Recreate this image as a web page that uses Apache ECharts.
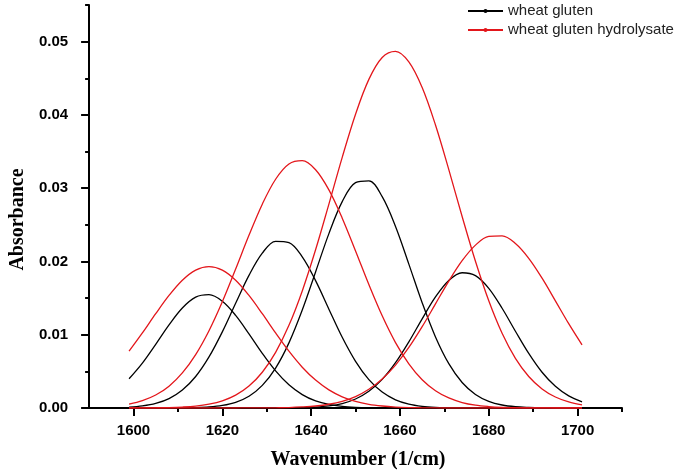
<!DOCTYPE html>
<html>
<head>
<meta charset="utf-8">
<script src="https://cdn.jsdelivr.net/npm/echarts@6/dist/echarts.min.js"></script>
<style>
html,body{margin:0;padding:0;background:#fff;}
#chart{width:676px;height:475px;}
</style>
</head>
<body>
<div id="chart"></div>
<script>
// Wavenumber sample positions (1/cm)
var wavenumbers = [1599,1602,1605,1608,1611,1614,1617,1620,1623,1626,1629,1632,1635,1638,1641,1644,1647,1650,1653,1656,1659,1662,1665,1668,1671,1674,1677,1680,1683,1686,1689,1692,1695,1698,1701];

// wheat gluten (black) fitted bands
var glutenBand1 = [0.00399,0.00613,0.00869,0.01134,0.01365,0.01513,0.01547,0.01457,0.01264,0.01012,0.00746,0.00507,0.00317,0.00183,0.00097,0.00048,0.00022,0.00009,0.00003,0.00001,0,0,0,0,0,0,0,0,0,0,0,0,0,0,0];
var glutenBand2 = [0.00011,0.00028,0.00062,0.00128,0.00245,0.0043,0.00697,0.01039,0.01429,0.0181,0.02114,0.02275,0.02257,0.02063,0.01738,0.01349,0.00965,0.00637,0.00387,0.00217,0.00112,0.00053,0.00023,0.00009,0.00004,0.00001,0,0,0,0,0,0,0,0,0];
var glutenBand3 = [0,0,0,0.00001,0.00002,0.00005,0.00014,0.00035,0.00078,0.00161,0.00309,0.00545,0.00889,0.01337,0.01857,0.0238,0.02816,0.03075,0.031,0.02884,0.02477,0.01964,0.01437,0.0097,0.00605,0.00348,0.00185,0.00091,0.00041,0.00017,0.00007,0.00002,0.00001,0,0];
var glutenBand4 = [0,0,0,0,0,0,0,0,0,0,0,0.00001,0.00002,0.00005,0.00012,0.00028,0.00061,0.00123,0.00228,0.0039,0.00618,0.00902,0.01217,0.01515,0.01741,0.01846,0.01807,0.01633,0.01361,0.01048,0.00745,0.00488,0.00296,0.00165,0.00085];

// wheat gluten hydrolysate (red) fitted bands
var hydroBand1 = [0.00775,0.01024,0.01287,0.01536,0.01744,0.01882,0.0193,0.01882,0.01744,0.01536,0.01287,0.01024,0.00775,0.00557,0.00381,0.00248,0.00153,0.0009,0.0005,0.00027,0.00013,0.00006,0.00003,0.00001,0,0,0,0,0,0,0,0,0,0,0];
var hydroBand2 = [0.00053,0.001,0.00177,0.00298,0.00479,0.00729,0.01055,0.0145,0.01896,0.02356,0.02782,0.03122,0.0333,0.03375,0.03252,0.02977,0.02591,0.02143,0.01684,0.01258,0.00893,0.00603,0.00386,0.00236,0.00137,0.00075,0.00039,0.0002,0.00009,0.00004,0.00002,0.00001,0,0,0];
var hydroBand3 = [0,0.00001,0.00003,0.00006,0.00013,0.00026,0.00052,0.00097,0.00175,0.00299,0.00488,0.0076,0.01128,0.01598,0.02159,0.02783,0.03421,0.0401,0.04485,0.04784,0.04868,0.04724,0.04374,0.03862,0.03253,0.02613,0.02002,0.01463,0.0102,0.00678,0.0043,0.0026,0.0015,0.00083,0.00043];
var hydroBand4 = [0,0,0,0,0,0,0,0,0,0.00001,0.00001,0.00003,0.00006,0.00014,0.00027,0.00051,0.00091,0.00156,0.00255,0.00396,0.00586,0.00826,0.0111,0.01421,0.01732,0.0201,0.02223,0.02342,0.02349,0.02245,0.02043,0.01772,0.01463,0.01151,0.00862];

// Tick labels
var xMajorTicks = [1600,1620,1640,1660,1680,1700];
var xMinorTicks = [1610,1630,1650,1670,1690,1710];
var yMajorTicks = [0,0.01,0.02,0.03,0.04,0.05];
var yMinorTicks = [0.005,0.015,0.025,0.035,0.045,0.055];

var seriesNames = ['wheat gluten','wheat gluten hydrolysate'];
var black = '#000000', red = '#e3161b';

function pairs(vals){ return wavenumbers.map(function(x,i){ return [x, vals[i]]; }); }
function mk(name, vals, color){
  return {
    name: name, type: 'line', data: pairs(vals), smooth: 0.35,
    xAxisIndex: 0, yAxisIndex: 0,
    showSymbol: false, symbol: 'circle', symbolSize: 3,
    lineStyle: {color: color, width: 1.3},
    itemStyle: {color: color},
    emphasis: {disabled: true}, animation: false
  };
}
var series = [
  mk(seriesNames[0], glutenBand1, black),
  mk(seriesNames[0], glutenBand2, black),
  mk(seriesNames[0], glutenBand3, black),
  mk(seriesNames[0], glutenBand4, black),
  mk(seriesNames[1], hydroBand1, red),
  mk(seriesNames[1], hydroBand2, red),
  mk(seriesNames[1], hydroBand3, red),
  mk(seriesNames[1], hydroBand4, red)
];

var labelStyle = {color:'#000', fontFamily:'Liberation Sans, Arial, sans-serif', fontWeight:'bold', fontSize:15};

var chart = echarts.init(document.getElementById('chart'), null, {renderer:'canvas'});
chart.setOption({
  animation: false,
  backgroundColor: '#fff',
  grid: {left: 77, right: 54, top: 5, bottom: 67, containLabel: false},
  legend: {
    data: seriesNames, orient: 'vertical', left: 467, top: 2, padding: 0,
    itemWidth: 35, itemHeight: 5, itemGap: 1,
    textStyle: {color:'#222', fontFamily:'Liberation Sans, Arial, sans-serif', fontSize:15, lineHeight:18},
    selectedMode: false
  },
  xAxis: [{
    type: 'value', min: 1590, max: 1710, position: 'bottom',
    name: 'Wavenumber (1/cm)', nameLocation: 'middle', nameGap: 42,
    nameTextStyle: {color:'#000', fontFamily:'Liberation Serif, Times New Roman, serif', fontWeight:'bold', fontSize:20, padding:[0,0,0,5]},
    axisLine: {show: true, onZero: false, lineStyle: {color:'#000', width: 2}},
    axisTick: {show: true, inside: false, length: 8, lineStyle: {color:'#000', width: 2}, customValues: xMajorTicks},
    axisLabel: Object.assign({margin: 15, customValues: xMajorTicks, formatter: function(v){ return String(v); }}, labelStyle),
    splitLine: {show: false}
  },{
    type: 'value', min: 1590, max: 1710, position: 'bottom',
    axisLine: {show: false},
    axisTick: {show: true, inside: false, length: 4, lineStyle: {color:'#000', width: 2}, customValues: xMinorTicks},
    axisLabel: {show: false}, splitLine: {show: false}
  }],
  yAxis: [{
    type: 'value', min: 0, max: 0.055, position: 'left',
    name: 'Absorbance', nameLocation: 'middle', nameGap: 54, nameRotate: 90,
    nameTextStyle: {color:'#000', fontFamily:'Liberation Serif, Times New Roman, serif', fontWeight:'bold', fontSize:20, padding:[0,26,0,0]},
    axisLine: {show: true, onZero: false, lineStyle: {color:'#000', width: 2}},
    axisTick: {show: true, inside: false, length: 8, lineStyle: {color:'#000', width: 2}, customValues: yMajorTicks},
    axisLabel: Object.assign({margin: 21, customValues: yMajorTicks, formatter: function(v){ return v.toFixed(2); }}, labelStyle),
    splitLine: {show: false}
  },{
    type: 'value', min: 0, max: 0.055, position: 'left',
    axisLine: {show: false},
    axisTick: {show: true, inside: false, length: 4, lineStyle: {color:'#000', width: 2}, customValues: yMinorTicks},
    axisLabel: {show: false}, splitLine: {show: false}
  }],
  series: series
});
</script>
</body>
</html>
